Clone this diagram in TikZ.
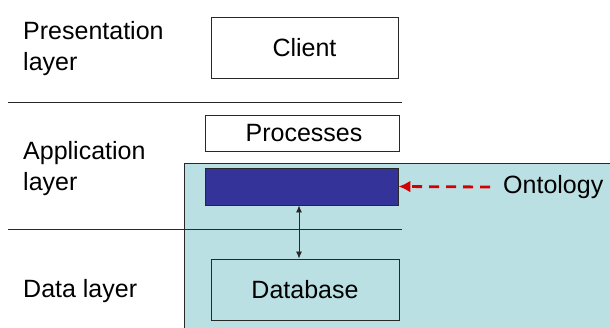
\documentclass[tikz,border=0pt]{standalone}
\usepackage{fontspec}
\setmainfont{Liberation Sans}
\usetikzlibrary{arrows.meta}
\definecolor{tealbg}{RGB}{187,224,227}
\definecolor{ontoblue}{RGB}{51,51,153}
\definecolor{ontored}{RGB}{214,0,0}
\definecolor{edge}{RGB}{40,40,40}
\tikzset{
  lbl/.style={anchor=base west, align=left, inner sep=0pt, font=\fontsize{25}{31}\selectfont},
  box/.style={draw=edge, line width=0.9pt, fill=white, inner sep=0pt, font=\fontsize{25}{31}\selectfont},
  divider/.style={draw=edge, line width=0.9pt},
}
\begin{document}
\begin{tikzpicture}[x=1pt,y=-1pt]
\useasboundingbox (0,0) rectangle (610,327);
% shaded region holding the ontology and the database
\fill[tealbg] (184,163) rectangle (612,329);
\draw[edge, line width=0.8pt] (184,329) -- (184,163) -- (612,163);
% layer separators
\draw[divider] (8,102) -- (402,102);
\draw[divider] (8,229) -- (402,229);
% layer names (anchored at the baseline of their last line)
\node[lbl] (pres) at (23,70) {Presentation\\layer};
\node[lbl] (app) at (23,190) {Application\\layer};
\node[lbl] (data) at (23,297) {Data layer};
% components
\node[box, minimum width=187pt, minimum height=61pt] (client) at (304.5,47.5) {Client};
\node[box, minimum width=194pt, minimum height=36pt] (proc) at (302,133) {\hspace*{4pt}Processes};
\node[box, fill=ontoblue, minimum width=193pt, minimum height=37pt] (onto) at (301.5,186.5) {};
\node[box, fill=none, minimum width=188pt, minimum height=61pt] (db) at (305,289.5) {Database};
% links
\draw[edge, line width=0.8pt, {Latex[length=7pt,width=6pt]}-{Latex[length=7pt,width=6pt]}] (onto.south -| 299,0) -- (db.north -| 299,0);
\node[anchor=west, inner sep=0pt, font=\fontsize{25}{31}\selectfont] (ontolbl) at (503,187) {Ontology};
\coordinate (ontostart) at (490,187);
\draw[ontored, line width=2.8pt, dash pattern=on 10pt off 7pt, -{Latex[length=12pt,width=12pt]}] (ontostart) -- (onto.east);
\end{tikzpicture}
\end{document}
